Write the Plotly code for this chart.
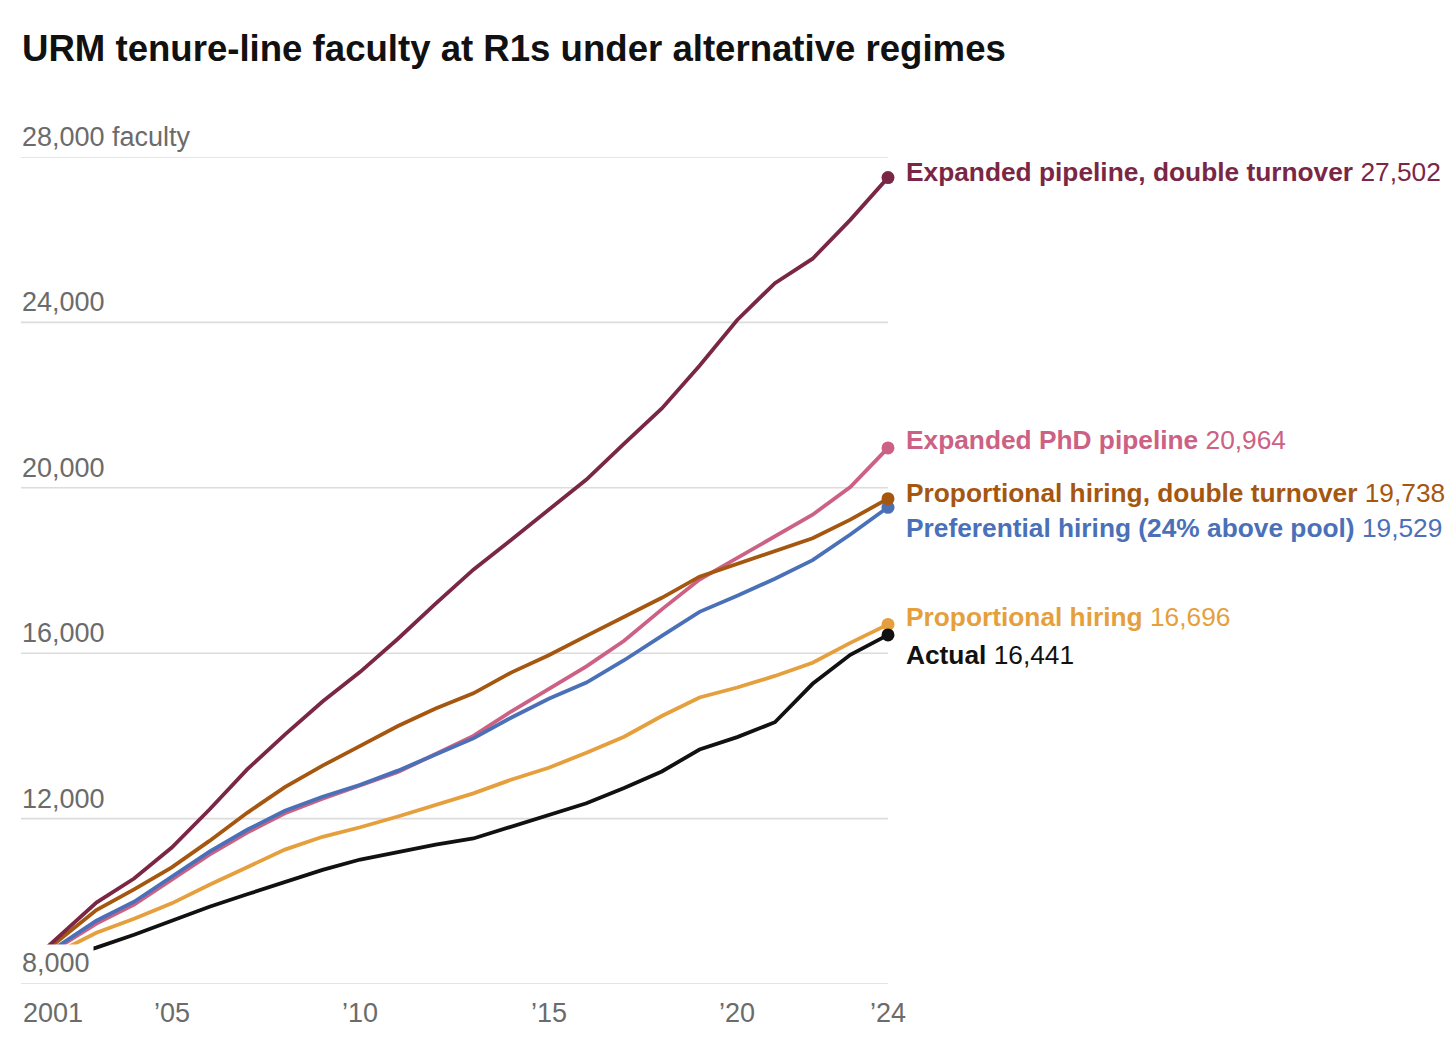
import plotly.graph_objects as go

years = list(range(2001, 2025))

series_names = [
    "Expanded PhD pipeline",
    "Preferential hiring (24% above pool)",
    "Proportional hiring, double turnover",
    "Expanded pipeline, double turnover",
    "Proportional hiring",
    "Actual",
]

expanded_phd = [8320, 8890, 9460, 9920, 10520, 11130, 11660, 12130, 12480, 12800, 13130, 13560,
                14000, 14590, 15140, 15680, 16300, 17060, 17780, 18310, 18820, 19350, 20020, 20964]
preferential = [8320, 8930, 9530, 9990, 10590, 11200, 11730, 12190, 12530, 12820, 13160, 13550,
                13940, 14440, 14900, 15290, 15830, 16420, 17000, 17390, 17800, 18250, 18870, 19529]
prop_double = [8320, 9060, 9790, 10290, 10820, 11460, 12140, 12760, 13280, 13760, 14240, 14660,
               15030, 15530, 15950, 16420, 16880, 17340, 17850, 18160, 18460, 18780, 19230, 19738]
expanded_double = [8320, 9150, 9970, 10550, 11300, 12220, 13190, 14030, 14830, 15550, 16350, 17200,
                   18020, 18740, 19470, 20200, 21070, 21920, 22950, 24060, 24950, 25540, 26480, 27502]
proportional = [8320, 8780, 9240, 9580, 9950, 10400, 10830, 11250, 11560, 11790, 12050, 12340,
                12610, 12940, 13230, 13590, 13980, 14480, 14930, 15170, 15450, 15770, 16250, 16696]
actual = [8320, 8590, 8880, 9190, 9540, 9870, 10170, 10470, 10760, 11010, 11200, 11370,
          11520, 11800, 12090, 12370, 12740, 13140, 13670, 13970, 14330, 15260, 15960, 16441]

series_values = [expanded_phd, preferential, prop_double, expanded_double, proportional, actual]
series_colors = ["#cc6184", "#4a70b8", "#a5560f", "#7a2746", "#e59f3c", "#111111"]
label_yshift = [8, -21, 6, 6, 7, -20]

y_ticks = [8000, 12000, 16000, 20000, 24000, 28000]
y_tick_text = ["8,000", "12,000", "16,000", "20,000", "24,000", "28,000 faculty"]
x_ticks = [2001, 2005, 2010, 2015, 2020, 2024]
x_tick_text = ["2001", "\u201905", "\u201910", "\u201915", "\u201920", "\u201924"]

FONT = "Liberation Sans, Arial, Helvetica, sans-serif"
W, H = 1440, 1033  # page body has an 8px margin on every side

fig = go.Figure()
for name, vals, col in zip(series_names, series_values, series_colors):
    fig.add_trace(go.Scatter(
        x=years, y=vals, mode="lines", name=name,
        line=dict(color=col, width=3.8), cliponaxis=False, hoverinfo="skip",
    ))
    fig.add_trace(go.Scatter(
        x=[years[-1]], y=[vals[-1]], mode="markers",
        marker=dict(color=col, size=13), cliponaxis=False, hoverinfo="skip",
    ))

shapes = [dict(type="line", xref="paper", x0=0, x1=1, yref="y", y0=v, y1=v,
               line=dict(color="#dcdcdc", width=1.6), layer="below") for v in y_ticks]

annotations = []
for v, t in zip(y_ticks, y_tick_text):
    first = v == y_ticks[0]
    annotations.append(dict(
        x=0, xref="paper", y=v, yref="y", text=t, showarrow=False,
        xanchor="left", yanchor="bottom",
        yshift=2 if first else 4, xshift=-3 if first else 0,
        borderpad=3 if first else 0,
        bgcolor="white" if first else None,
        font=dict(family=FONT, size=27, color="#6b6b6b"),
    ))
for v, t in zip(x_ticks, x_tick_text):
    annotations.append(dict(
        x=v, xref="x", y=0, yref="paper", text=t, showarrow=False,
        xanchor="left" if v == x_ticks[0] else "center", yanchor="middle", yshift=-29,
        font=dict(family=FONT, size=27, color="#6b6b6b"),
    ))
for name, vals, col, ys in zip(series_names, series_values, series_colors, label_yshift):
    annotations.append(dict(
        x=years[-1], xref="x", y=vals[-1], yref="y",
        text=f"<b>{name}</b> {vals[-1]:,}", showarrow=False,
        xanchor="left", yanchor="middle", xshift=16, yshift=ys,
        font=dict(family=FONT, size=26.3, color=col),
    ))

fig.update_layout(
    width=W, height=H,
    margin=dict(l=13, r=W - 880, t=149, b=57, pad=0),
    paper_bgcolor="white", plot_bgcolor="white",
    showlegend=False,
    title=dict(text="<b>URM tenure-line faculty at R1s under alternative regimes</b>",
               x=14 / W, xref="container", xanchor="left",
               y=1 - 40 / H, yref="container", yanchor="middle",
               font=dict(family=FONT, size=36.6, color="#111111")),
    xaxis=dict(range=[2001, 2024], showgrid=False, zeroline=False, showticklabels=False,
               showline=False, fixedrange=True),
    yaxis=dict(range=[8000, 28000], showgrid=False, showticklabels=False,
               zeroline=False, showline=False, fixedrange=True),
    shapes=shapes,
    annotations=annotations,
)

fig.write_html("out.html")
